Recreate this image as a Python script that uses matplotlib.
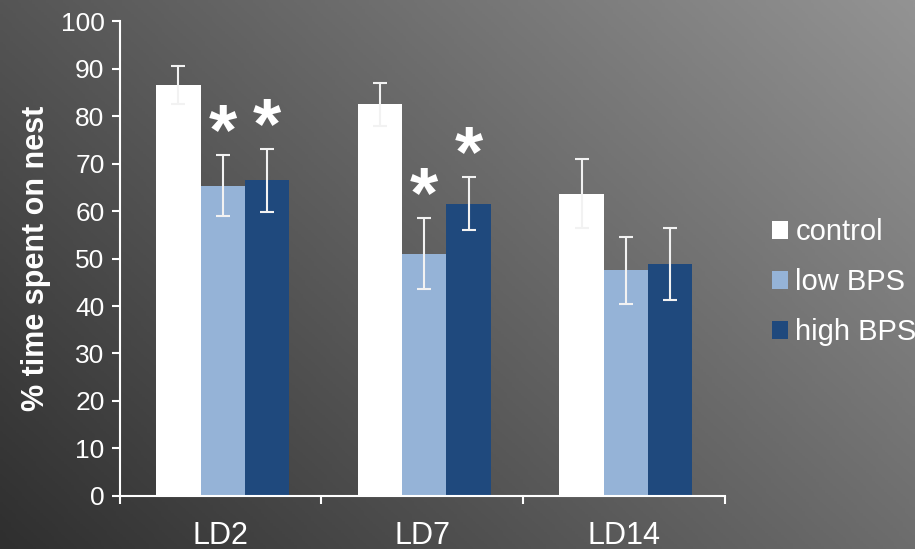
import numpy as np
import matplotlib
matplotlib.use('Agg')
import matplotlib.pyplot as plt
from matplotlib.colors import LinearSegmentedColormap

plt.rcParams['font.family'] = ['Liberation Sans', 'DejaVu Sans']

# data
days = ['LD2', 'LD7', 'LD14']
groups = ['control', 'low BPS', 'high BPS']
control = [86.5, 82.5, 63.7]
low_bps = [65.4, 51.0, 47.5]
high_bps = [66.5, 61.6, 48.9]
control_err = [4.0, 4.5, 7.2]
low_err = [6.5, 7.5, 7.0]
high_err = [6.6, 5.6, 7.6]
# significant bars: (day index, group index)
signif = [(0, 1), (0, 2), (1, 1), (1, 2)]

colors = ['#FFFFFF', '#95B3D7', '#1F497D']
means = [control, low_bps, high_bps]
errs = [control_err, low_err, high_err]

fig = plt.figure(figsize=(9.15, 5.49), dpi=100)

# gradient background, dark bottom-left to lighter top-right
bg = fig.add_axes([0, 0, 1, 1], zorder=-10)
gx, gy = np.meshgrid(np.linspace(0, 1, 300), np.linspace(0, 1, 200))
grad = 0.62 * gx + 0.38 * gy
cmap = LinearSegmentedColormap.from_list('bg', ['#2f2f2f', '#939393'])
bg.imshow(grad, cmap=cmap, origin='lower', aspect='auto', extent=[0, 1, 0, 1])
bg.axis('off')

ax = fig.add_axes([0.131, 0.097, 0.661, 0.864])
ax.patch.set_alpha(0)

x = np.arange(len(days))
w = 0.22
for i in range(3):
    ax.bar(x + (i - 1) * w + 0.01, means[i], w, color=colors[i], label=groups[i],
           yerr=errs[i], error_kw=dict(ecolor='#f2f2f2', elinewidth=1.5,
                                      capsize=5, capthick=1.5), zorder=2)

for d, g in signif:
    top = means[g][d] + errs[g][d]
    ax.text(x[d] + (g - 1) * w + 0.01, top - 3.0, '*', ha='center', va='bottom',
            fontsize=52, color='white', fontweight='bold')

ax.set_ylim(0, 100)
ax.set_xlim(-0.5, 2.5)
ax.set_yticks(range(0, 101, 10))
ax.set_xticks([-0.5, 0.5, 1.5, 2.5], minor=False)
ax.set_xticklabels([])
ax.set_xticks(x, minor=True)
ax.set_xticklabels(days, minor=True)
ax.tick_params(axis='x', which='minor', length=0, labelsize=22, colors='white', pad=18)
ax.tick_params(axis='x', which='major', length=6, width=1.5, color='white', direction='out')
ax.tick_params(axis='y', length=6, width=1.5, color='white', labelcolor='white',
               labelsize=19, direction='out', pad=5)
ax.spines['top'].set_visible(False)
ax.spines['right'].set_visible(False)
for s in ['left', 'bottom']:
    ax.spines[s].set_color('white')
    ax.spines[s].set_linewidth(1.5)

ax.set_ylabel('% time spent on nest', color='white', fontsize=22, fontweight='bold',
              labelpad=7)

leg = ax.legend(loc='center left', bbox_to_anchor=(1.035, 0.45), frameon=False,
                fontsize=21, handlelength=0.55, handleheight=0.55, handletextpad=0.25,
                labelspacing=0.75)
for t in leg.get_texts():
    t.set_color('white')

fig.savefig('out.png', dpi=100)
